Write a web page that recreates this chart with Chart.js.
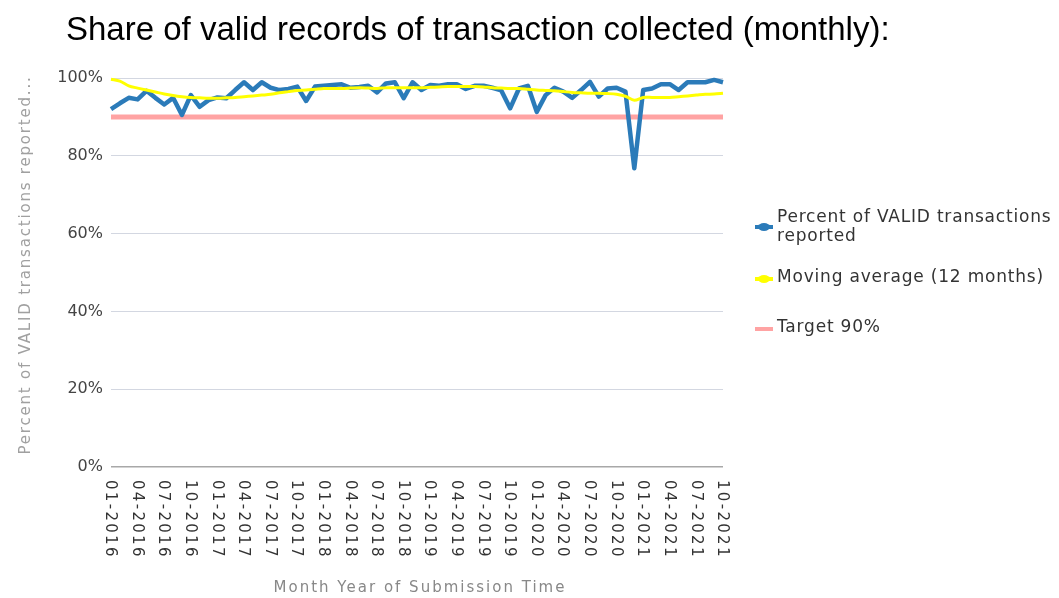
<!DOCTYPE html>
<html><head><meta charset="utf-8">
<script src="https://cdn.jsdelivr.net/npm/chart.js@4"></script>
<style>html,body{margin:0;padding:0;background:#fff}#wrap{position:relative;width:1059px;height:598px}</style>
</head><body><div id="wrap"><canvas id="c"></canvas></div>
<script>
const categories = [
 '01-2016','02-2016','03-2016','04-2016','05-2016','06-2016','07-2016','08-2016','09-2016','10-2016','11-2016','12-2016',
 '01-2017','02-2017','03-2017','04-2017','05-2017','06-2017','07-2017','08-2017','09-2017','10-2017','11-2017','12-2017',
 '01-2018','02-2018','03-2018','04-2018','05-2018','06-2018','07-2018','08-2018','09-2018','10-2018','11-2018','12-2018',
 '01-2019','02-2019','03-2019','04-2019','05-2019','06-2019','07-2019','08-2019','09-2019','10-2019','11-2019','12-2019',
 '01-2020','02-2020','03-2020','04-2020','05-2020','06-2020','07-2020','08-2020','09-2020','10-2020','11-2020','12-2020',
 '01-2021','02-2021','03-2021','04-2021','05-2021','06-2021','07-2021','08-2021','09-2021','10-2021'
];
const tickLabels = [
 '01-2016','04-2016','07-2016','10-2016','01-2017','04-2017','07-2017','10-2017',
 '01-2018','04-2018','07-2018','10-2018','01-2019','04-2019','07-2019','10-2019',
 '01-2020','04-2020','07-2020','10-2020','01-2021','04-2021','07-2021','10-2021'
];
const validPct = [
 92.0,93.5,94.9,94.5,96.7,94.9,93.2,94.9,90.5,95.6,92.6,94.3,
 95.0,94.8,96.9,98.9,96.9,98.9,97.5,96.9,97.2,97.8,94.1,97.8,
 98.0,98.2,98.4,97.5,97.7,98.0,96.3,98.6,98.9,94.8,98.9,96.9,
 98.2,98.0,98.4,98.4,97.2,98.0,98.0,97.5,96.8,92.2,97.3,98.0,
 91.3,95.6,97.5,96.5,94.9,96.9,99.0,95.2,97.3,97.5,96.5,76.8,
 96.9,97.3,98.4,98.4,96.9,98.9,98.9,98.9,99.5,98.9
];
const movingAvg = [
 99.7,99.2,98.0,97.4,96.9,96.4,95.9,95.5,95.2,95.0,94.9,94.8,
 94.8,94.9,95.0,95.2,95.4,95.6,95.8,96.2,96.5,96.8,96.9,97.1,
 97.3,97.3,97.3,97.4,97.5,97.4,97.3,97.5,97.5,97.5,97.5,97.5,
 97.6,97.7,97.8,97.8,97.8,97.8,97.7,97.5,97.4,97.3,97.3,97.1,
 96.9,96.8,96.7,96.5,96.3,96.2,96.1,96.1,96.0,95.8,95.3,94.3,
 95.0,95.0,95.0,95.0,95.2,95.4,95.6,95.8,95.9,96.1
];
const target = [
 90,90,90,90,90,90,90,90,90,90,90,90,
 90,90,90,90,90,90,90,90,90,90,90,90,
 90,90,90,90,90,90,90,90,90,90,90,90,
 90,90,90,90,90,90,90,90,90,90,90,90,
 90,90,90,90,90,90,90,90,90,90,90,90,
 90,90,90,90,90,90,90,90,90,90
];
const seriesNames = ['Percent of VALID transactions reported','Moving average (12 months)','Target 90%'];
const legendLines = [['Percent of VALID transactions','reported'],['Moving average (12 months)'],['Target 90%']];
const chartTitle = 'Share of valid records of transaction collected (monthly):';
const yTitle = 'Percent of VALID transactions reported...';
const xTitle = 'Month Year of Submission Time';

const BLUE = '#2b7bb9', YELLOW = '#ffff00', PINK = '#ffa3a3';

const textPlugin = {
  id: 'customText',
  afterDraw(chart) {
    const ctx = chart.ctx;
    const xs = chart.scales.x;
    const area = chart.chartArea;
    ctx.save();
    // title
    ctx.fillStyle = '#000';
    ctx.font = '33px "Liberation Sans", Arial, sans-serif';
    ctx.textAlign = 'left';
    ctx.textBaseline = 'alphabetic';
    ctx.fillText(chartTitle, 66, 40);

    // y title
    ctx.save();
    ctx.translate(26, 265);
    ctx.rotate(-Math.PI / 2);
    ctx.font = '15px "DejaVu Sans", sans-serif';
    try { ctx.letterSpacing = '1.8px'; } catch (e) {}
    ctx.fillStyle = '#a0a0a0';
    ctx.textAlign = 'center';
    ctx.textBaseline = 'middle';
    ctx.fillText(yTitle, 0, 0);
    ctx.restore();

    // x tick labels (rotated clockwise)
    ctx.font = '15px "DejaVu Sans", sans-serif';
    ctx.fillStyle = '#333';
    tickLabels.forEach(lbl => {
      const idx = categories.indexOf(lbl);
      const x = xs.getPixelForValue(idx);
      ctx.save();
      ctx.translate(x - 1, area.bottom + 13);
      ctx.rotate(Math.PI / 2);
      try { ctx.letterSpacing = '2.3px'; } catch (e) {}
      ctx.textAlign = 'left';
      ctx.textBaseline = 'middle';
      ctx.fillText(lbl, 0, 0);
      ctx.restore();
    });

    // x title
    ctx.save();
    ctx.font = '15px "DejaVu Sans", sans-serif';
    try { ctx.letterSpacing = '2px'; } catch (e) {}
    ctx.fillStyle = '#888';
    ctx.textAlign = 'center';
    ctx.textBaseline = 'middle';
    ctx.fillText(xTitle, 420, 588);
    ctx.restore();

    // legend
    const colors = [BLUE, YELLOW, PINK];
    const symY = [227, 279, 329];
    const textY = [[218, 237], [278], [328]];
    chart.data.datasets.forEach((ds, i) => {
      ctx.save();
      ctx.strokeStyle = colors[i];
      ctx.lineWidth = 4;
      ctx.beginPath();
      ctx.moveTo(755, symY[i]);
      ctx.lineTo(773, symY[i]);
      ctx.stroke();
      if (i < 2) {
        ctx.fillStyle = colors[i];
        ctx.beginPath();
        ctx.ellipse(764, symY[i], 6, 4, 0, 0, Math.PI * 2);
        ctx.fill();
      }
      ctx.font = '17px "DejaVu Sans", sans-serif';
      try { ctx.letterSpacing = '0.8px'; } catch (e) {}
      ctx.fillStyle = '#333';
      ctx.textAlign = 'left';
      ctx.textBaseline = 'middle';
      legendLines[i].forEach((t, k) => ctx.fillText(t, 777, textY[i][k]));
      ctx.restore();
    });
    ctx.restore();
  }
};

new Chart(document.getElementById('c'), {
  type: 'line',
  data: {
    labels: categories,
    datasets: [
      { label: seriesNames[0], data: validPct, borderColor: BLUE, backgroundColor: BLUE, borderWidth: 4.5, pointRadius: 0, tension: 0, order: 1, clip: 8, borderJoinStyle: 'round' },
      { label: seriesNames[1], data: movingAvg, borderColor: YELLOW, backgroundColor: YELLOW, borderWidth: 3, pointRadius: 0, tension: 0.3, order: 0, clip: 8 },
      { label: seriesNames[2], data: target, borderColor: PINK, backgroundColor: PINK, borderWidth: 5, pointRadius: 0, tension: 0, order: 2, clip: 8 }
    ]
  },
  options: {
    responsive: true,
    maintainAspectRatio: false,
    animation: false,
    layout: { padding: { top: 78, right: 336, bottom: 0, left: 0 } },
    plugins: { legend: { display: false }, title: { display: false }, tooltip: { enabled: false } },
    scales: {
      x: {
        type: 'category',
        offset: false,
        grid: { display: false },
        border: { display: false },
        ticks: { display: false },
        afterFit(scale) { scale.height = 131; }
      },
      y: {
        min: 0, max: 100,
        border: { display: false },
        grid: {
          drawTicks: false,
          color: c => (c.tick && c.tick.value === 0) ? '#a8a8a8' : '#d3d7e1',
          lineWidth: c => (c.tick && c.tick.value === 0) ? 1.5 : 1
        },
        ticks: {
          stepSize: 20,
          padding: 8,
          color: '#444',
          font: { family: 'DejaVu Sans', size: 16 },
          callback: v => v + '%'
        },
        afterFit(scale) { scale.width = 111; }
      }
    }
  },
  plugins: [textPlugin]
});
</script>
</body></html>
